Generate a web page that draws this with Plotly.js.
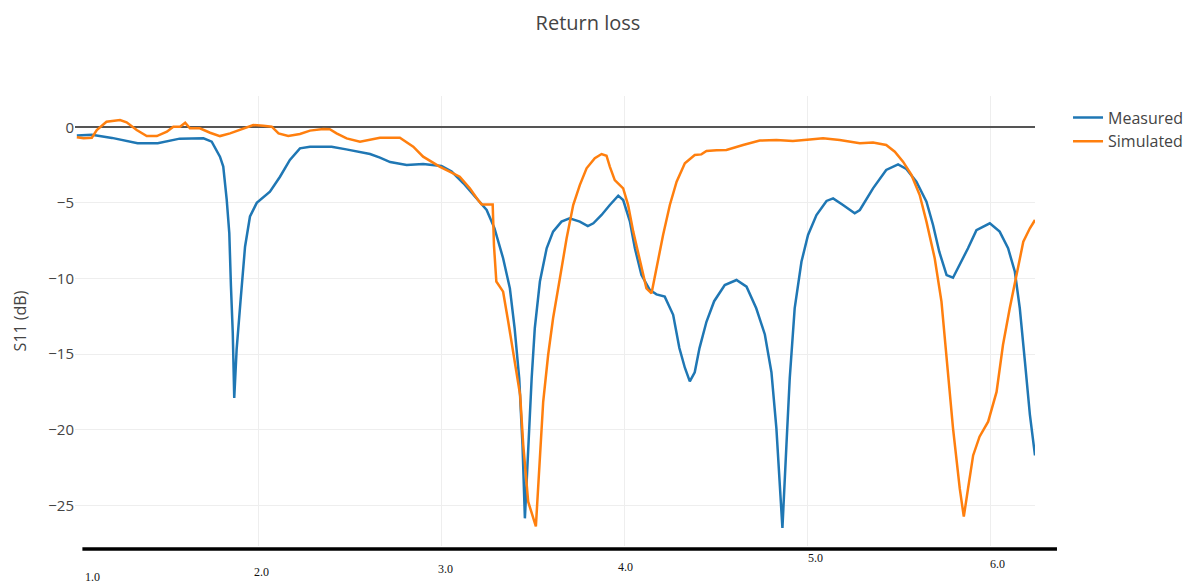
<!DOCTYPE html>
<html>
<head>
<meta charset="utf-8">
<script src="https://cdn.plot.ly/plotly-3.0.1.min.js"></script>
<style>html,body{margin:0;padding:0;background:#fff;}#chart{width:1191px;height:587px;}</style>
</head>
<body>
<div id="chart"></div>
<script>
// Frequency (GHz) and S11 (dB)
const measuredFreq = [1.008,1.09,1.2,1.34,1.45,1.57,1.70,1.745,1.79,1.808,1.827,1.841,1.850,1.860,1.868,1.881,1.903,1.927,1.954,1.991,2.063,2.118,2.172,2.227,2.282,2.40,2.48,2.61,2.664,2.72,2.81,2.90,3.0,3.056,3.12,3.19,3.247,3.29,3.337,3.374,3.40,3.425,3.443,3.456,3.474,3.493,3.51,3.538,3.575,3.61,3.656,3.70,3.756,3.80,3.83,3.875,3.92,3.966,3.993,4.03,4.057,4.093,4.139,4.175,4.22,4.266,4.30,4.33,4.357,4.384,4.41,4.448,4.49,4.548,4.612,4.667,4.72,4.767,4.803,4.83,4.852,4.863,4.885,4.903,4.93,4.967,5.003,5.049,5.104,5.14,5.194,5.258,5.286,5.358,5.43,5.495,5.54,5.595,5.65,5.686,5.72,5.76,5.795,5.832,5.877,5.923,5.996,6.05,6.096,6.133,6.16,6.188,6.215,6.243];
const measuredS11 = [-0.55,-0.5,-0.7,-1.06,-1.06,-0.75,-0.73,-0.95,-1.94,-2.6,-4.8,-7.0,-10.5,-13.6,-17.9,-14.7,-11.4,-7.9,-5.9,-5.0,-4.26,-3.27,-2.16,-1.39,-1.28,-1.28,-1.46,-1.77,-2.0,-2.3,-2.49,-2.43,-2.56,-2.93,-3.7,-4.7,-5.47,-6.68,-8.66,-10.65,-13.3,-16.6,-21.0,-25.86,-21.0,-16.6,-13.3,-10.2,-8.0,-6.9,-6.24,-6.02,-6.24,-6.53,-6.35,-5.8,-5.14,-4.52,-4.81,-6.24,-8.0,-9.77,-10.76,-11.05,-11.2,-12.4,-14.6,-15.9,-16.8,-16.2,-14.6,-12.86,-11.5,-10.43,-10.1,-10.54,-11.97,-13.7,-16.2,-19.9,-24.3,-26.5,-21.0,-16.6,-11.97,-8.89,-7.12,-5.8,-4.87,-4.7,-5.14,-5.69,-5.47,-4.04,-2.82,-2.45,-2.76,-3.6,-4.92,-6.46,-8.23,-9.77,-9.95,-9.1,-8.0,-6.8,-6.35,-6.9,-8.0,-9.55,-11.97,-15.5,-19.0,-21.7];

const simulatedFreq = [1.008,1.045,1.09,1.117,1.17,1.21,1.244,1.28,1.335,1.39,1.445,1.50,1.535,1.572,1.60,1.626,1.68,1.736,1.79,1.845,1.918,1.972,2.027,2.073,2.11,2.163,2.227,2.282,2.354,2.39,2.427,2.482,2.555,2.61,2.664,2.773,2.846,2.90,2.99,3.10,3.155,3.20,3.22,3.28,3.287,3.30,3.337,3.365,3.40,3.43,3.447,3.474,3.516,3.538,3.556,3.583,3.61,3.647,3.684,3.72,3.756,3.793,3.838,3.875,3.902,3.92,3.947,3.993,4.02,4.048,4.084,4.12,4.148,4.175,4.211,4.248,4.285,4.33,4.384,4.42,4.448,4.503,4.557,4.648,4.739,4.83,4.92,5.013,5.085,5.176,5.286,5.358,5.43,5.477,5.522,5.568,5.613,5.65,5.695,5.732,5.76,5.795,5.832,5.854,5.877,5.905,5.94,5.987,6.033,6.068,6.105,6.142,6.179,6.215,6.243];
const simulatedS11 = [-0.66,-0.73,-0.69,-0.18,0.37,0.42,0.48,0.33,-0.18,-0.58,-0.58,-0.29,0.04,0.04,0.3,-0.07,-0.07,-0.36,-0.58,-0.4,-0.07,0.15,0.1,0.04,-0.4,-0.58,-0.44,-0.22,-0.11,-0.13,-0.4,-0.73,-0.95,-0.84,-0.69,-0.69,-1.28,-1.94,-2.6,-3.27,-4.04,-4.81,-5.1,-5.1,-7.8,-10.2,-10.87,-12.86,-15.5,-17.7,-21.0,-24.76,-26.4,-22.1,-18.15,-15.06,-12.63,-10.0,-7.34,-5.14,-3.82,-2.71,-2.05,-1.77,-1.88,-2.6,-3.49,-4.04,-5.14,-6.9,-8.89,-10.65,-10.98,-9.33,-7.12,-5.14,-3.6,-2.38,-1.83,-1.79,-1.57,-1.52,-1.5,-1.17,-0.88,-0.84,-0.9,-0.8,-0.73,-0.84,-1.06,-1.0,-1.17,-1.61,-2.27,-3.15,-4.48,-6.24,-8.66,-11.53,-15.5,-19.9,-23.9,-25.75,-23.9,-21.7,-20.46,-19.47,-17.5,-14.4,-11.97,-9.77,-7.57,-6.68,-6.13];

const xTickValues = [1, 2, 3, 4, 5, 6];
const xTickLabels = ['1.0', '2.0', '3.0', '4.0', '5.0', '6.0'];
const seriesNames = ['Measured', 'Simulated'];

// label offsets (px) reproducing the reference's hand-placed x labels
const xLabelShiftX = [17, 3, 4, 1, 8, 7];
const xLabelShiftY = [-31, -26, -23, -21, -12, -18];

const traces = [
  {x: measuredFreq, y: measuredS11, name: seriesNames[0], type: 'scatter', mode: 'lines',
   line: {color: '#1f77b4', width: 2.5}},
  {x: simulatedFreq, y: simulatedS11, name: seriesNames[1], type: 'scatter', mode: 'lines',
   line: {color: '#ff7f0e', width: 2.5}}
];

const annotations = xTickValues.map((v, i) => ({
  x: v, xref: 'x', y: 0, yref: 'paper', yanchor: 'middle', xanchor: 'center',
  xshift: xLabelShiftX[i], yshift: xLabelShiftY[i], text: xTickLabels[i], showarrow: false,
  font: {family: 'Liberation Serif, Times New Roman, serif', size: 12, color: '#111'}
}));

const layout = {
  width: 1191, height: 587,
  paper_bgcolor: '#fff', plot_bgcolor: '#fff',
  font: {family: 'Open Sans, sans-serif', color: '#444', size: 15},
  title: {text: 'Return loss', x: 0.4937, xref: 'container', y: 0.961, yref: 'container', yanchor: 'middle',
          font: {size: 20, color: '#444', family: 'Open Sans, sans-serif'}},
  margin: {l: 75, r: 156, t: 96, b: 41, pad: 0, autoexpand: false},
  xaxis: {range: [0.998, 6.243], tickvals: xTickValues, showticklabels: false,
          showgrid: true, gridcolor: '#eee', gridwidth: 1, zeroline: false, showline: false, ticks: ''},
  yaxis: {range: [-27.69, 2.07], dtick: 5, tick0: 0, showgrid: true, gridcolor: '#eee', gridwidth: 1,
          zeroline: true, zerolinecolor: '#555', zerolinewidth: 2, showline: false,
          tickfont: {size: 15, color: '#444'},
          title: {text: 'S11 (dB)', standoff: 17, font: {size: 16, color: '#444'}}},
  legend: {x: 1.0344, y: 0.99, xanchor: 'left', yanchor: 'top', font: {size: 16, color: '#444'}},
  annotations: annotations,
  shapes: [{type: 'line', xref: 'paper', yref: 'paper', x0: 0.0077, x1: 1.0229, y0: -0.0067, y1: -0.0067,
            line: {color: '#000', width: 3.5}}]
};

Plotly.newPlot('chart', traces, layout, {displayModeBar: false, staticPlot: true});
</script>
</body>
</html>
